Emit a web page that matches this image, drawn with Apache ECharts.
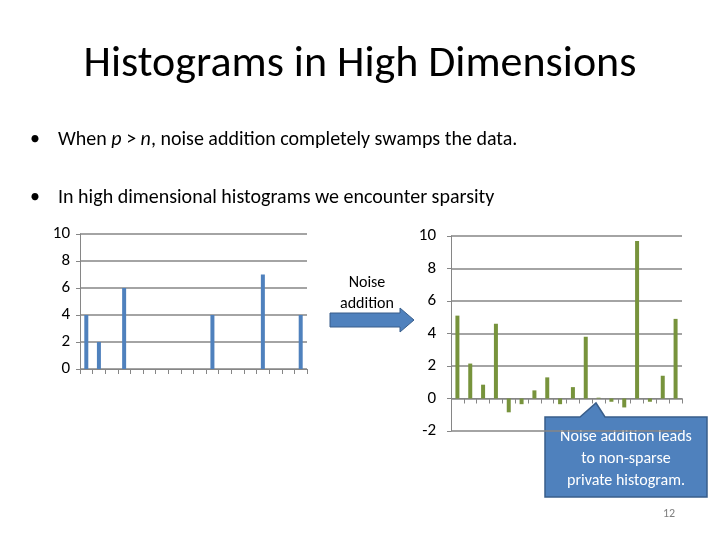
<!DOCTYPE html>
<html><head><meta charset="utf-8">
<script src="https://cdn.jsdelivr.net/npm/echarts@6/dist/echarts.min.js"></script>
<style>body{margin:0}#c{width:720px;height:540px}</style></head>
<body><div id="c"></div>
<script>
const categories = Array.from({length: 18}, (_, i) => 'b' + (i + 1));
const trueCounts = [4, 2, 0, 6, 0, 0, 0, 0, 0, 0, 4, 0, 0, 0, 7, 0, 0, 4];
const noisyCounts = [5.1, 2.15, 0.85, 4.6, -0.85, -0.35, 0.5, 1.3, -0.35, 0.7, 3.8, 0.05, -0.2, -0.55, 9.7, -0.2, 1.4, 4.9];

const font = 'Calibri, Carlito, "Liberation Sans", sans-serif';
const chart = echarts.init(document.getElementById('c'));

function xAxis(idx) {
  return {
    type: 'category', gridIndex: idx, data: categories,
    axisLine: { lineStyle: { color: '#868686' } },
    axisTick: { show: true, interval: 0, length: 5, lineStyle: { color: '#868686' } },
    axisLabel: { show: false, interval: 0 }
  };
}
function yAxis(idx, min, margin) {
  return {
    type: 'value', gridIndex: idx, min: min, max: 10, interval: 2,
    axisLine: { show: true, lineStyle: { color: '#868686' } },
    axisTick: { show: true, length: 4, lineStyle: { color: '#868686' } },
    splitLine: { lineStyle: { color: '#868686', width: 1.5 } },
    axisLabel: { color: '#000', fontSize: 17, fontFamily: font, margin: margin }
  };
}

chart.setOption({
  animation: false,
  grid: [
    { left: 80, width: 227, top: 234, height: 135 },
    { left: 451, width: 231, top: 236, height: 195 }
  ],
  xAxis: [xAxis(0), xAxis(1)],
  yAxis: [yAxis(0, 0, 10), yAxis(1, -2, 15)],
  series: [
    { type: 'bar', xAxisIndex: 0, yAxisIndex: 0, data: trueCounts, barWidth: 4, itemStyle: { color: '#4f81bd' } },
    { type: 'bar', xAxisIndex: 1, yAxisIndex: 1, data: noisyCounts, barWidth: 4, itemStyle: { color: '#77933c' } }
  ],
  graphic: [
    { type: 'text', left: 'center', top: 43, style: { text: 'Histograms in High Dimensions', font: '44px ' + font, fill: '#000' } },
    { type: 'text', left: 30, top: 130, style: { rich: { a: { font: '20px ' + font }, i: { font: 'italic 20px ' + font } }, text: '•    {a|When }{i|p}{a| > }{i|n}{a|, noise addition completely swamps the data.}', font: '20px ' + font, fill: '#000' } },
    { type: 'text', left: 30, top: 188, style: { text: '•    In high dimensional histograms we encounter sparsity', font: '20px ' + font, fill: '#000' } },
    { type: 'text', x: 367, y: 272, style: { text: 'Noise\naddition', font: '16px ' + font, fill: '#000', align: 'center', lineHeight: 21 } },
    { type: 'polygon', shape: { points: [[330, 313], [400, 313], [400, 308], [414, 320], [400, 332], [400, 327], [330, 327]] }, style: { fill: '#4f81bd', stroke: '#385d8a' } },
    { type: 'polygon', shape: { points: [[545, 417], [580, 417], [596, 403], [605, 417], [707, 417], [707, 497], [545, 497]] }, style: { fill: '#4f81bd', stroke: '#385d8a', lineWidth: 1.5 } },
    { type: 'text', x: 626, y: 426, style: { text: 'Noise addition leads\nto non-sparse\nprivate histogram.', font: '16px ' + font, fill: '#fff', align: 'center', lineHeight: 22 } },
    { type: 'text', x: 663, y: 508, style: { text: '12', font: '12px ' + font, fill: '#7f7f7f' } }
  ]
});
</script></body></html>
